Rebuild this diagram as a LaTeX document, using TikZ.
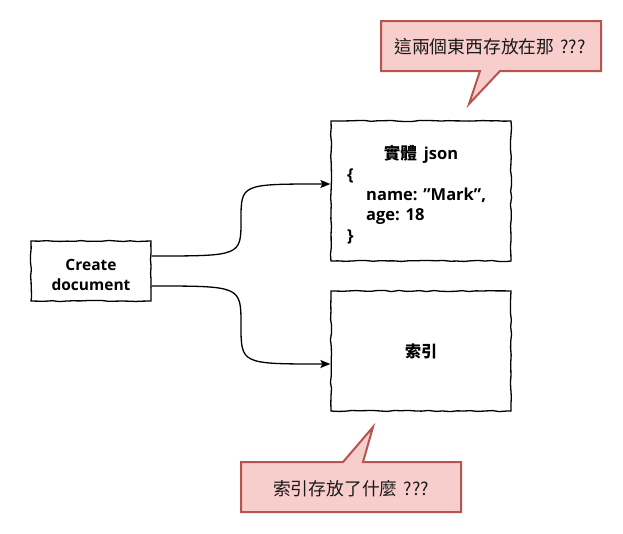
\documentclass[tikz,border=0pt]{standalone}
\usepackage{fontspec}
\setmainfont{Open Sans}
\newfontfamily\cjk{Noto Sans CJK TC}
\usetikzlibrary{arrows.meta,decorations.pathmorphing}
\definecolor{calloutfill}{HTML}{F8CECC}
\definecolor{calloutdraw}{HTML}{B85450}
\begin{document}
\begin{tikzpicture}[x=1pt,y=-1pt,
  sketchbox/.style={draw=black, line width=1.3pt, fill=white, inner sep=0pt,
    decorate, decoration={random steps, segment length=7pt, amplitude=0.6pt}},
  calloutshape/.style={draw=calloutdraw, fill=calloutfill, line width=2pt, line join=miter},
  callouttext/.style={font=\cjk\fontsize{17.8pt}{20pt}\selectfont, text=black!90},
  jsontext/.style={font=\bfseries\fontsize{16.5pt}{20pt}\selectfont, inner sep=0pt},
  flow/.style={draw=black, line width=1.3pt, -{Stealth[length=10pt,width=8pt,inset=2pt]}}
]
\pgfmathsetseed{7}
\useasboundingbox (0,0) rectangle (623,533);

% top callout
\draw[calloutshape] (381,21) -- (601,21) -- (601,71) -- (500,71) -- (469,104) -- (480,71) -- (381,71) -- cycle;
\node[callouttext] (c1) at (490,47) {這兩個東西存放在那\hspace{6pt}???};

% bottom callout
\draw[calloutshape] (241,462) -- (343,462) -- (373,427) -- (363,462) -- (461,462) -- (461,512) -- (241,512) -- cycle;
\node[callouttext] (c2) at (351,489) {索引存放了什麼\hspace{6pt}???};

% boxes
\node[sketchbox, minimum width=180pt, minimum height=140pt] (j) at (421,191) {};
\node[sketchbox, minimum width=180pt, minimum height=120pt, font=\cjk\bfseries\fontsize{16pt}{20pt}\selectfont] (idx) at (421,351) {索引};
\node[sketchbox, minimum width=120pt, minimum height=60pt] (cd) at (91,271) {};
\node[align=center, inner sep=0pt, font=\bfseries\fontsize{15.5pt}{20pt}\selectfont] (cdt) at (91,275) {Create\\document};

% json text
\node[jsontext, anchor=base] (jt) at (421,159) {{\cjk\bfseries 實體}\hspace{7pt}json};
\node[jsontext, anchor=base west] (jl1) at (347,180) {\{};
\node[jsontext, anchor=base west] (jl2) at (366,200) {name: \char"22 Mark\char"22,};
\node[jsontext, anchor=base west] (jl3) at (366,220) {age: 18};
\node[jsontext, anchor=base west] (jl4) at (347,241) {\}};

% connectors
\draw[flow] ([yshift=15pt]cd.east) .. controls (241,256) .. (241,220) .. controls (241,184) .. ([yshift=7pt]j.west);
\draw[flow] ([yshift=-15pt]cd.east) .. controls (241,286) .. (241,325) .. controls (241,364) .. ([yshift=-13pt]idx.west);
\end{tikzpicture}
\end{document}
